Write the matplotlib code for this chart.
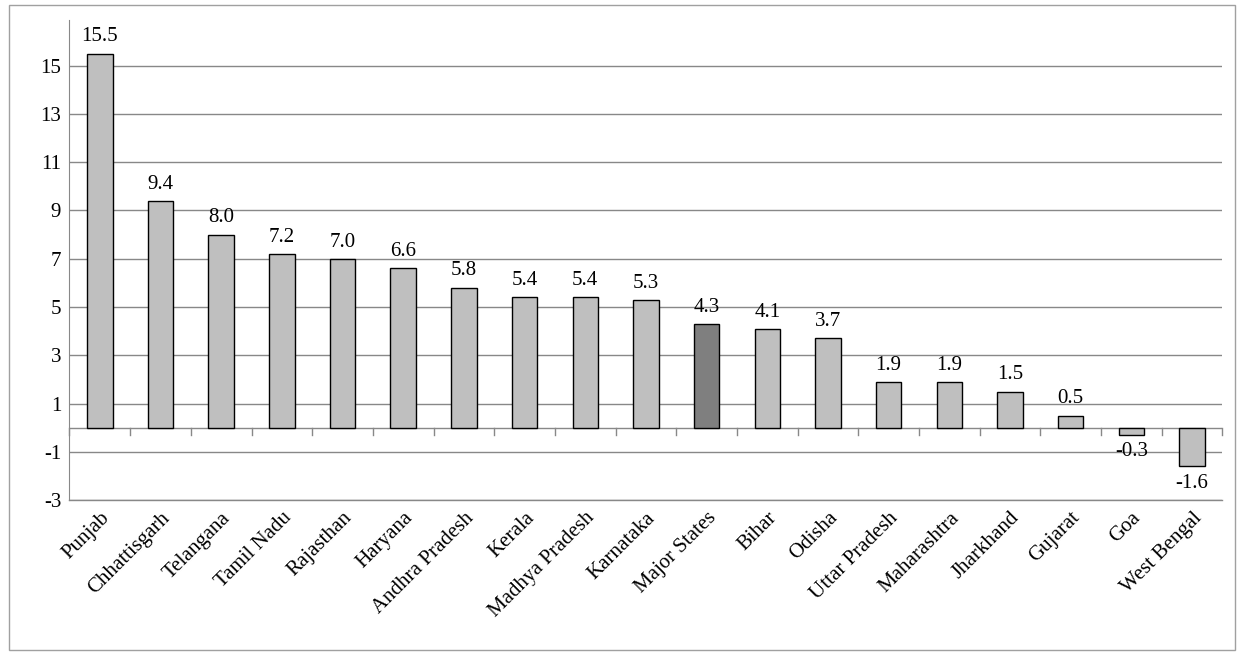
import matplotlib
matplotlib.use("Agg")
import matplotlib.pyplot as plt
from matplotlib.patches import Rectangle

states = ["Punjab","Chhattisgarh","Telangana","Tamil Nadu","Rajasthan","Haryana","Andhra Pradesh","Kerala","Madhya Pradesh","Karnataka","Major States","Bihar","Odisha","Uttar Pradesh","Maharashtra","Jharkhand","Gujarat","Goa","West Bengal"]
values = [15.5,9.4,8.0,7.2,7.0,6.6,5.8,5.4,5.4,5.3,4.3,4.1,3.7,1.9,1.9,1.5,0.5,-0.3,-1.6]
labels = ["15.5","9.4","8.0","7.2","7.0","6.6","5.8","5.4","5.4","5.3","4.3","4.1","3.7","1.9","1.9","1.5","0.5","-0.3","-1.6"]

plt.rcParams['font.family'] = ['Liberation Serif', 'DejaVu Serif']
plt.rcParams['axes.unicode_minus'] = False
fig = plt.figure(figsize=(12.41, 6.59), dpi=100)
fig.patches.append(Rectangle((0.007, 0.013), 0.988, 0.98, transform=fig.transFigure,
                             fill=False, edgecolor='#A0A0A0', lw=1))
ax = fig.add_axes([0.056, 0.241, 0.929, 0.729])
colors = ['#7F7F7F' if s == "Major States" else '#BFBFBF' for s in states]
x = range(len(states))
ax.bar(x, values, width=0.42, color=colors, edgecolor='black', lw=1, zorder=3)
for i, (v, l) in enumerate(zip(values, labels)):
    y = v + 0.3 if v >= 0 else v - 0.3
    ax.text(i, y, l, ha='center', va='bottom' if v >= 0 else 'top', fontsize=15)
ax.set_xlim(-0.5, len(states) - 0.5)
ax.set_ylim(-3, 16.9)
ax.set_yticks(range(-3, 16, 2))
ax.tick_params(axis='y', labelsize=15, length=0, pad=6)
ax.grid(axis='y', color='#888888', lw=1, zorder=0)
for s in ['top', 'right', 'bottom']:
    ax.spines[s].set_visible(False)
ax.spines['left'].set_color('#888888')
ax.axhline(0, color='#888888', lw=1, zorder=2)
ax.axhline(-3, color='#888888', lw=1, zorder=2, clip_on=False)
ax.set_xticks(list(x))
ax.set_xticklabels(states, rotation=45, ha='right', rotation_mode='anchor', fontsize=15)
ax.tick_params(axis='x', length=0, pad=6)
for i in range(len(states) + 1):
    ax.plot([i - 0.5, i - 0.5], [0, -0.3], color='#888888', lw=1, clip_on=False)
fig.savefig("out.png", dpi=100)
